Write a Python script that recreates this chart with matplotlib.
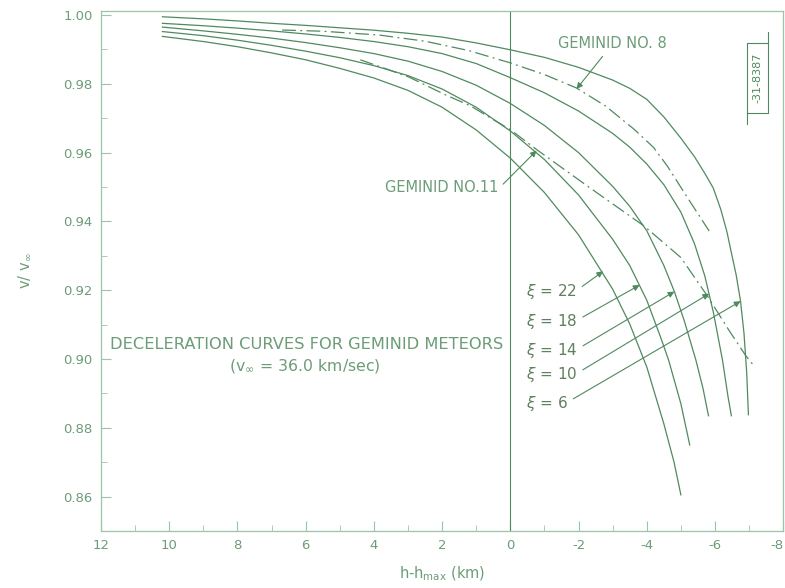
import numpy as np
import matplotlib.pyplot as plt

plt.rcParams['axes.unicode_minus'] = False
plt.rcParams['font.family'] = ['DejaVu Sans']
plt.rcParams['mathtext.fontset'] = 'dejavusans'

# Кривые торможения для разных ξ
xi_values = [6, 10, 14, 18, 22]

x_xi6 = [10.2, 9, 8, 7, 6, 5, 4, 3, 2, 1, 0, -1, -2, -3, -3.5, -4, -4.5, -5, -5.4, -5.7, -5.95,
         -6.17, -6.35, -6.5, -6.62, -6.75, -6.85, -6.93, -6.98]
y_xi6 = [0.9995, 0.9989, 0.9983, 0.9976, 0.9970, 0.9963, 0.9956, 0.9947, 0.9936, 0.9919, 0.9899,
         0.9877, 0.9848, 0.9811, 0.9787, 0.9755, 0.9704, 0.9642, 0.9588, 0.9540, 0.9497,
         0.9435, 0.9370, 0.9300, 0.9245, 0.9168, 0.9075, 0.8960, 0.8838]

x_xi10 = [10.2, 9, 8, 7, 6, 5, 4, 3, 2, 1, 0, -1, -2, -3, -3.5, -4, -4.5, -5, -5.4, -5.7, -5.95,
          -6.22, -6.38, -6.48]
y_xi10 = [0.9976, 0.9969, 0.9962, 0.9954, 0.9945, 0.9935, 0.9923, 0.9908, 0.9888, 0.9859, 0.9818,
          0.9774, 0.9721, 0.9656, 0.9616, 0.9567, 0.9507, 0.9427, 0.9335, 0.9242, 0.9137,
          0.8997, 0.8892, 0.8835]

x_xi14 = [10.2, 9, 8, 7, 6, 5, 4, 3, 2, 1, 0, -1, -2, -3, -3.5, -4, -4.5, -4.81, -5.1, -5.44,
          -5.65, -5.81]
y_xi14 = [0.9965, 0.9954, 0.9944, 0.9933, 0.9920, 0.9905, 0.9888, 0.9866, 0.9836, 0.9796, 0.9743,
          0.9679, 0.9600, 0.9502, 0.9444, 0.9373, 0.9272, 0.9196, 0.9111, 0.8997,
          0.8914, 0.8835]

x_xi18 = [10.2, 9, 8, 7, 6, 5, 4, 3, 2, 1, 0, -1, -2, -3, -3.5, -4, -4.4, -4.64, -5.0, -5.26]
y_xi18 = [0.9952, 0.9940, 0.9927, 0.9912, 0.9895, 0.9876, 0.9853, 0.9824, 0.9785, 0.9732, 0.9663,
          0.9580, 0.9477, 0.9348, 0.9272, 0.9171, 0.9065, 0.8997, 0.8870, 0.8750]

x_xi22 = [10.2, 9, 8, 7, 6, 5, 4, 3, 2, 1, 0, -1, -2, -3, -3.5, -4, -4.5, -4.8, -5.0]
y_xi22 = [0.9938, 0.9923, 0.9908, 0.9890, 0.9870, 0.9845, 0.9817, 0.9781, 0.9732, 0.9666, 0.9584,
          0.9484, 0.9361, 0.9203, 0.9102, 0.8977, 0.8812, 0.8700, 0.8605]

# Наблюдённые метеоры
x_gem8 = [6.69, 5.5, 3.85, 2.5, 1.23, 0, -1, -1.94, -2.8, -3.64, -4.2, -4.61, -5.2, -5.83]
y_gem8 = [0.99565, 0.9953, 0.9942, 0.9924, 0.9897, 0.9861, 0.9827, 0.9788, 0.9735, 0.9667, 0.9615,
          0.9560, 0.9468, 0.9372]

x_gem11 = [4.4, 3.71, 2.98, 1.9, 1.17, 0.5, 0, -0.77, -2.3, -3.93, -5.0, -5.78, -6.4, -6.9, -7.12]
y_gem11 = [0.9870, 0.9846, 0.9820, 0.9768, 0.9736, 0.9696, 0.9667, 0.9609, 0.9500, 0.9386, 0.9295,
           0.9183, 0.9085, 0.9010, 0.8983]

xi_x = [x_xi6, x_xi10, x_xi14, x_xi18, x_xi22]
xi_y = [y_xi6, y_xi10, y_xi14, y_xi18, y_xi22]

# Куда указывают стрелки подписей ξ
arrow_x = [-6.75, -5.83, -4.81, -3.79, -2.72]
arrow_y = [0.9168, 0.9190, 0.9196, 0.9215, 0.9255]
label_y = [0.8870, 0.8954, 0.9024, 0.9108, 0.9195]

line_c = '#4f8a5e'
text_c = '#6c9c78'
spine_c = '#9cc4a6'

fig = plt.figure(figsize=(7.85, 5.88), dpi=100)
ax = fig.add_axes([0.1287, 0.097, 0.869, 0.8844])

for x, y in zip(xi_x, xi_y):
    ax.plot(x, y, color=line_c, lw=0.9)

dashdot = (0, (11, 3.5, 1.5, 3.5))
ax.plot(x_gem8, y_gem8, color=line_c, lw=0.9, linestyle=dashdot)
ax.plot(x_gem11, y_gem11, color=line_c, lw=0.9, linestyle=dashdot)

ax.axvline(0, color=line_c, lw=0.8)

ax.set_xlim(12, -8)
ax.set_ylim(0.85, 1.0012)
ax.set_xticks(np.arange(12, -9, -2))
ax.set_xticks(np.arange(11, -8, -2), minor=True)
ax.set_yticks(np.arange(0.86, 1.001, 0.02))
ax.set_yticks(np.arange(0.85, 1.0, 0.02), minor=True)
ax.set_yticklabels(['%.2f' % v for v in np.arange(0.86, 1.001, 0.02)])
ax.set_xticklabels([str(v) for v in range(12, -9, -2)])
ax.get_xticklabels()[-1].set_horizontalalignment('right')

for s in ax.spines.values():
    s.set_color(spine_c)
    s.set_linewidth(0.9)
ax.tick_params(which='major', direction='in', length=7, color=spine_c,
               labelcolor=text_c, labelsize=9.5, pad=6)
ax.tick_params(which='minor', direction='in', length=4, color=spine_c)

ax.set_xlabel('h-h$_{\\mathrm{max}}$ (km)', color=text_c, fontsize=10.5, labelpad=9)
ax.set_ylabel('v/ v$_{\\infty}$', color=text_c, fontsize=10.5, labelpad=22)

# Подписи ξ со стрелками
for xi, tx, ty, ly in zip(xi_values, arrow_x, arrow_y, label_y):
    ax.annotate(r'$\xi$ = %d' % xi, xy=(tx, ty), xytext=(-0.47, ly),
                color='#5f7f5f', fontsize=11, ha='left', va='center',
                arrowprops=dict(arrowstyle='-|>', color=line_c, lw=0.8,
                                mutation_scale=9, shrinkA=2, shrinkB=0,
                                relpos=(1.0, 0.6)))

ax.annotate('GEMINID NO. 8', xy=(-1.94, 0.9785), xytext=(-2.98, 0.9916),
            color=text_c, fontsize=10.5, ha='center', va='center',
            arrowprops=dict(arrowstyle='-|>', color=line_c, lw=0.8,
                            mutation_scale=9, shrinkA=2, shrinkB=0,
                            relpos=(0.45, 0.0)))
ax.annotate('GEMINID NO.11', xy=(-0.77, 0.9606), xytext=(0.35, 0.9499),
            color=text_c, fontsize=10.5, ha='right', va='center',
            arrowprops=dict(arrowstyle='-|>', color=line_c, lw=0.8,
                            mutation_scale=9, shrinkA=2, shrinkB=0,
                            relpos=(1.0, 0.4)))

ax.text(11.74, 0.9043, 'DECELERATION CURVES FOR GEMINID METEORS',
        color=text_c, fontsize=11.7, ha='left', va='center')
ax.text(6.04, 0.8980, '(v$_{\\infty}$ = 36.0 km/sec)',
        color=text_c, fontsize=11.3, ha='center', va='center')

# Номер рисунка в рамке
bx0, bx1, by0, by1 = 0.947, 0.978, 0.804, 0.9385
ax.plot([bx0, bx1, bx1, bx0, bx0], [by0, by0, by1, by1, by0],
        transform=ax.transAxes, color=line_c, lw=0.8, clip_on=False)
ax.plot([bx1, bx1], [by1, 0.960], transform=ax.transAxes, color=line_c, lw=0.8)
ax.plot([bx0, bx0], [by0, 0.783], transform=ax.transAxes, color=line_c, lw=0.8)
ax.text((bx0 + bx1) / 2, (by0 + by1) / 2, '-31-8387', transform=ax.transAxes,
        rotation=90, ha='center', va='center', color=line_c, fontsize=8)

fig.savefig('out.png', dpi=100)
